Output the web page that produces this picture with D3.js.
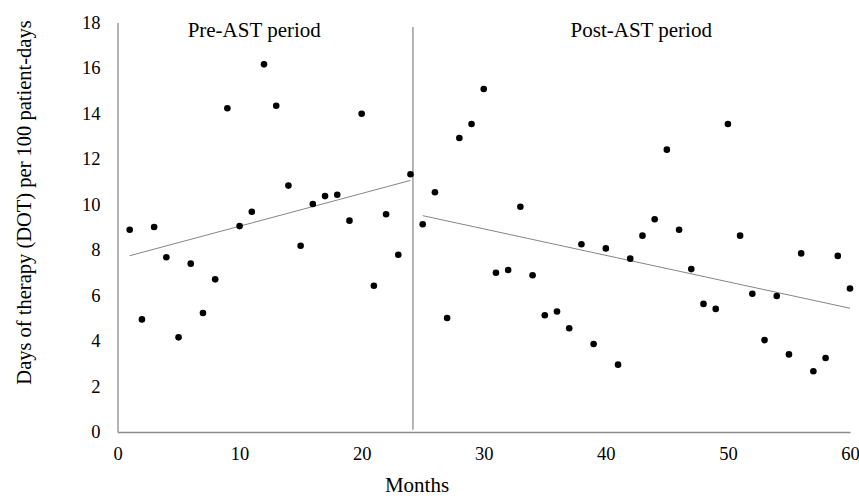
<!DOCTYPE html>
<html>
<head>
<meta charset="utf-8">
<script src="https://cdn.jsdelivr.net/npm/d3@7/dist/d3.min.js"></script>
<style>
  html, body { margin: 0; padding: 0; background: #fff; }
  svg { display: block; }
  text { font-family: "Liberation Serif", "Times New Roman", serif; fill: #000; }
</style>
</head>
<body>
<svg id="chart" width="859" height="499"></svg>
<script>
// ---- data ----
const preMonths = [1,2,3,4,5,6,7,8,9,10,11,12,13,14,15,16,17,18,19,20,21,22,23,24];
const preValues = [8.89,4.95,9.01,7.68,4.16,7.40,5.23,6.71,14.23,9.05,9.68,16.16,14.34,10.83,8.19,10.02,10.37,10.43,9.29,13.99,6.43,9.57,7.79,11.33];
const postMonths = [25,26,27,28,29,30,31,32,33,34,35,36,37,38,39,40,41,42,43,44,45,46,47,48,49,50,51,52,53,54,55,56,57,58,59,60];
const postValues = [9.13,10.54,5.01,12.92,13.54,15.08,7.00,7.12,9.90,6.89,5.13,5.30,4.56,8.25,3.87,8.07,2.96,7.62,8.63,9.35,12.41,8.89,7.16,5.63,5.41,13.54,8.63,6.08,4.04,5.98,3.41,7.85,2.67,3.25,7.74,6.31];
const preTrendX = [1, 24];
const preTrendY = [7.75, 11.06];
const postTrendX = [25, 60];
const postTrendY = [9.51, 5.44];
const interventionMonth = 24.2;
const xTicks = [0,10,20,30,40,50,60];
const yTicks = [0,2,4,6,8,10,12,14,16,18];
const periodLabels = ["Pre-AST period", "Post-AST period"];
const periodLabelX = [11.2, 42.9];
const xTitle = "Months";
const yTitle = "Days of therapy (DOT) per 100 patient-days";

// ---- chart ----
const svg = d3.select("#chart");
const x = d3.scaleLinear().domain([0, 60]).range([117.5, 850]);
const y = d3.scaleLinear().domain([0, 18]).range([432, 22.5]);
const axisColor = "#8c8c8c";

const xAxis = svg.append("g")
  .attr("transform", `translate(0,${y(0)})`)
  .call(d3.axisBottom(x).tickValues(xTicks).tickSize(0).tickSizeOuter(0).tickFormat(d3.format("d")));
xAxis.select(".domain").attr("stroke", axisColor).attr("stroke-width", 1.3);
xAxis.selectAll("text")
  .attr("y", 28).attr("dy", "0")
  .style("font-family", "'Liberation Serif', serif")
  .style("font-size", "18.5px").attr("fill", "#000");

const yAxis = svg.append("g")
  .attr("transform", `translate(${x(0)},0)`)
  .call(d3.axisLeft(y).tickValues(yTicks).tickSize(0).tickSizeOuter(0).tickPadding(17).tickFormat(d3.format("d")));
yAxis.select(".domain").attr("stroke", axisColor).attr("stroke-width", 1.3);
yAxis.selectAll("text")
  .style("font-family", "'Liberation Serif', serif")
  .style("font-size", "18.5px").attr("fill", "#000");

// intervention divider
svg.append("line")
  .attr("x1", x(interventionMonth)).attr("x2", x(interventionMonth))
  .attr("y1", y(17.8)).attr("y2", y(0.1))
  .attr("stroke", axisColor).attr("stroke-width", 1.3);

// trend lines
const line = d3.line().x(d => x(d[0])).y(d => y(d[1]));
svg.append("path")
  .datum(preTrendX.map((m, i) => [m, preTrendY[i]]))
  .attr("d", line).attr("fill", "none").attr("stroke", "#858585").attr("stroke-width", 1);
svg.append("path")
  .datum(postTrendX.map((m, i) => [m, postTrendY[i]]))
  .attr("d", line).attr("fill", "none").attr("stroke", "#858585").attr("stroke-width", 1);

// points
const pts = preMonths.map((m, i) => [m, preValues[i]])
  .concat(postMonths.map((m, i) => [m, postValues[i]]));
svg.append("g").selectAll("circle").data(pts).join("circle")
  .attr("cx", d => x(d[0])).attr("cy", d => y(d[1]))
  .attr("r", 3.3).attr("fill", "#000");

// period labels
svg.append("g").selectAll("text").data(periodLabels).join("text")
  .attr("x", (d, i) => x(periodLabelX[i])).attr("y", 36.5)
  .attr("text-anchor", "middle")
  .style("font-size", "21px")
  .text(d => d);

// axis titles
svg.append("text")
  .attr("x", 417).attr("y", 492)
  .attr("text-anchor", "middle")
  .style("font-size", "21px")
  .text(xTitle);

svg.append("text")
  .attr("transform", `translate(31,202.5) rotate(-90)`)
  .attr("text-anchor", "middle")
  .style("font-size", "20.5px")
  .text(yTitle);
</script>
</body>
</html>
